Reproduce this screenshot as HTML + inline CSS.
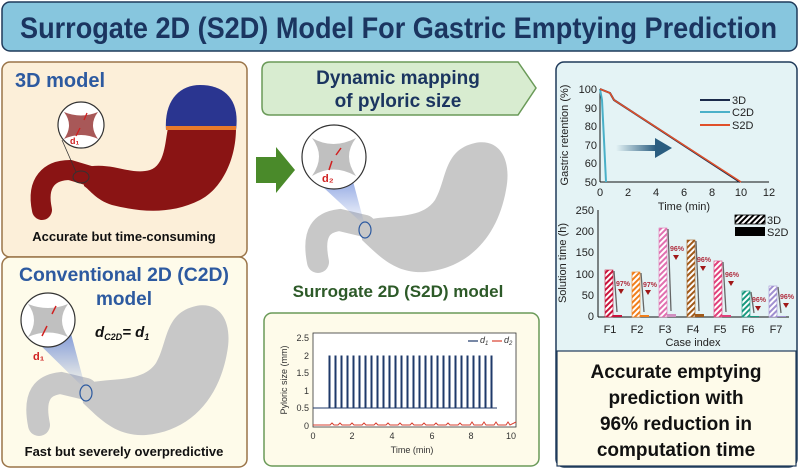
<!DOCTYPE html>
<html><head><meta charset="utf-8"><style>
html,body{margin:0;padding:0;background:#fff}
svg{display:block}
text{font-family:"Liberation Sans",sans-serif}
</style></head><body>
<svg width="799" height="469" viewBox="0 0 799 469" xmlns="http://www.w3.org/2000/svg">
<defs>
<linearGradient id="cone" x1="0" y1="0" x2="0" y2="1"><stop offset="0" stop-color="#4a6fd0" stop-opacity="0.9"/><stop offset="1" stop-color="#4a6fd0" stop-opacity="0"/></linearGradient>
<linearGradient id="arr" x1="0" y1="0" x2="1" y2="0"><stop offset="0" stop-color="#2a5d80" stop-opacity="0"/><stop offset="1" stop-color="#2a5d80"/></linearGradient>
<pattern id="h1" width="4" height="4" patternUnits="userSpaceOnUse" patternTransform="rotate(45)"><rect width="4" height="4" fill="#fff"/><rect width="2" height="4" fill="#c8143c"/></pattern>
<pattern id="h2" width="4" height="4" patternUnits="userSpaceOnUse" patternTransform="rotate(45)"><rect width="4" height="4" fill="#fff"/><rect width="2" height="4" fill="#f07f1c"/></pattern>
<pattern id="h3" width="4" height="4" patternUnits="userSpaceOnUse" patternTransform="rotate(45)"><rect width="4" height="4" fill="#fff"/><rect width="2" height="4" fill="#e070b0"/></pattern>
<pattern id="h4" width="4" height="4" patternUnits="userSpaceOnUse" patternTransform="rotate(45)"><rect width="4" height="4" fill="#fff"/><rect width="2" height="4" fill="#a05a1a"/></pattern>
<pattern id="h5" width="4" height="4" patternUnits="userSpaceOnUse" patternTransform="rotate(45)"><rect width="4" height="4" fill="#fff"/><rect width="2" height="4" fill="#e0407a"/></pattern>
<pattern id="h6" width="4" height="4" patternUnits="userSpaceOnUse" patternTransform="rotate(45)"><rect width="4" height="4" fill="#fff"/><rect width="2" height="4" fill="#1a9a80"/></pattern>
<pattern id="h7" width="4" height="4" patternUnits="userSpaceOnUse" patternTransform="rotate(45)"><rect width="4" height="4" fill="#fff"/><rect width="2" height="4" fill="#a090d0"/></pattern>
<pattern id="hk" width="4" height="4" patternUnits="userSpaceOnUse" patternTransform="rotate(45)"><rect width="4" height="4" fill="#fff"/><rect width="2" height="4" fill="#000"/></pattern>
<g id="stom">
<path d="M318,262 C312,232 322,222 340,220 L365,226" fill="none" stroke="#c8c8c8" stroke-width="22" stroke-linecap="round"/>
<path d="M360,222 C385,213 420,222 435,200 C447,180 443,150 475,143 C500,138 512,160 506,190 C498,235 470,268 425,272 C395,274 378,255 362,240 Z" fill="#c8c8c8"/>
</g>
</defs>

<!-- Title -->
<rect x="2" y="2" width="795" height="49" rx="8" fill="#87c6de" stroke="#1f3a5a" stroke-width="1.5"/>
<text x="20" y="38" font-size="30" font-weight="bold" fill="#1b3560" textLength="757" lengthAdjust="spacingAndGlyphs">Surrogate 2D (S2D) Model For Gastric Emptying Prediction</text>

<!-- Left panels -->
<rect x="2" y="62" width="245" height="195" rx="8" fill="#fcefd9" stroke="#9a7448" stroke-width="1.5"/>
<rect x="2" y="257" width="245" height="210" rx="8" fill="#fefbea" stroke="#9a7448" stroke-width="1.5"/>
<!-- 3D stomach -->
<path d="M42,210 C36,182 50,170 70,170 L90,176" fill="none" stroke="#8a1414" stroke-width="20" stroke-linecap="round"/>
<path d="M82,168 C110,160 130,176 150,170 C165,165 165,142 168,128 L236,128 C236,162 220,190 200,200 C170,215 140,212 112,205 C96,200 90,190 84,186 Z" fill="#8a1414"/>
<path d="M166,130 C164,100 180,85 200,85 C225,85 240,100 236,130 Z" fill="#2a3590"/>
<rect x="166" y="126" width="70" height="4" fill="#e87a2a"/>
<ellipse cx="81" cy="177" rx="8" ry="6" fill="none" stroke="#333" stroke-width="1"/>
<line x1="62" y1="140" x2="76" y2="172" stroke="#333" stroke-width="0.8"/>
<text x="15" y="87" font-size="20" font-weight="bold" fill="#2d5aa0">3D model</text>
<circle cx="81" cy="125" r="23" fill="#fff" stroke="#333" stroke-width="1.2"/>
<path d="M64,112 Q81,119 98,112 Q88,125 98,139 Q81,131 64,139 Q74,125 64,112Z" fill="#a85858"/>
<text x="70" y="144" font-size="9" font-weight="bold" fill="#d02020">d₁</text>
<line x1="87" y1="113" x2="84" y2="120" stroke="#d02020" stroke-width="1.3"/>
<line x1="76" y1="136" x2="80" y2="128" stroke="#d02020" stroke-width="1.3"/>
<text x="124" y="241" text-anchor="middle" font-size="13" font-weight="bold" fill="#111">Accurate but time-consuming</text>

<text x="19" y="281" font-size="19" font-weight="bold" fill="#2d5aa0" textLength="210" lengthAdjust="spacingAndGlyphs">Conventional 2D (C2D)</text>
<text x="124" y="305" text-anchor="middle" font-size="19" font-weight="bold" fill="#2d5aa0">model</text>
<use href="#stom" transform="translate(-279 163)"/>
<ellipse cx="86" cy="393" rx="6" ry="8" fill="none" stroke="#2d5aa0" stroke-width="1.2"/>
<path d="M30,335 L86,390 L70,330 Z" fill="url(#cone)" opacity="0.8"/>
<circle cx="48" cy="320" r="27" fill="#fff" stroke="#333" stroke-width="1.2"/>
<path d="M28,304 Q48,312 68,304 Q56,320 68,337 Q48,328 28,337 Q40,320 28,304Z" fill="#c0c0c0"/>
<text x="33" y="360" font-size="11" font-weight="bold" fill="#d02020">d₁</text>
<line x1="56" y1="306" x2="52" y2="314" stroke="#d02020" stroke-width="1.5"/>
<line x1="42" y1="336" x2="47" y2="326" stroke="#d02020" stroke-width="1.5"/>
<text x="95" y="337" font-size="15" font-weight="bold" font-style="italic" fill="#111">d<tspan font-size="9" dy="3">C2D</tspan><tspan dy="-3">= d</tspan><tspan font-size="9" dy="3">1</tspan></text>
<text x="124" y="456" text-anchor="middle" font-size="13" font-weight="bold" fill="#111">Fast but severely overpredictive</text>

<!-- Middle -->
<path d="M270,62 L518,62 L536,88 L518,115 L270,115 Q262,115 262,107 L262,70 Q262,62 270,62Z" fill="#d8ecd0" stroke="#6a9a58" stroke-width="1.5"/>
<text x="398" y="84" text-anchor="middle" font-size="19" font-weight="bold" fill="#1b3560">Dynamic mapping</text>
<text x="398" y="107" text-anchor="middle" font-size="19" font-weight="bold" fill="#1b3560">of pyloric size</text>
<path d="M256,157 L276,157 L276,147 L295,170 L276,193 L276,183 L256,183Z" fill="#4a8a2a"/>
<use href="#stom"/>
<ellipse cx="365" cy="230" rx="6" ry="8" fill="none" stroke="#2d5aa0" stroke-width="1.2"/>
<path d="M310,175 L365,226 L350,170 Z" fill="url(#cone)" opacity="0.8"/>
<circle cx="334" cy="157" r="32" fill="#fff" stroke="#333" stroke-width="1.2"/>
<path d="M312,138 Q333,150 356,138 Q342,156 356,176 Q333,163 312,176 Q326,156 312,138Z" fill="#c0c0c0"/>
<text x="322" y="182" font-size="11" font-weight="bold" fill="#d02020">d₂</text>
<line x1="341" y1="148" x2="336" y2="155" stroke="#d02020" stroke-width="1.5"/>
<line x1="329" y1="170" x2="332" y2="161" stroke="#d02020" stroke-width="1.5"/>
<text x="398" y="297" text-anchor="middle" font-size="17" font-weight="bold" fill="#2d5a28">Surrogate 2D (S2D) model</text>

<!-- pyloric chart -->
<rect x="264" y="313" width="275" height="153" rx="8" fill="#fefbea" stroke="#6a9a58" stroke-width="1.5"/>
<rect x="313" y="333" width="203" height="94" fill="#fff" stroke="#333" stroke-width="0.8"/>
<g font-size="9" fill="#333" text-anchor="end">
<text x="309" y="341">2.5</text><text x="309" y="359">2</text><text x="309" y="376">1.5</text><text x="309" y="394">1</text><text x="309" y="411">0.5</text><text x="309" y="429">0</text></g>
<g font-size="9" fill="#333" text-anchor="middle">
<text x="313" y="439">0</text><text x="352" y="439">2</text><text x="392" y="439">4</text><text x="432" y="439">6</text><text x="471" y="439">8</text><text x="511" y="439">10</text>
<text x="412" y="453">Time (min)</text></g>
<text x="287" y="380" font-size="9" fill="#333" text-anchor="middle" transform="rotate(-90 287 380)">Pyloric size (mm)</text>
<polyline fill="none" stroke="#1f3a6a" stroke-width="1" points="313,408 329,408 329,356 330,356 330,408 335,408 335,356 336,356 336,408 341,408 341,356 342,356 342,408 347,408 347,356 348,356 348,408 353,408 353,356 354,356 354,408 359,408 359,356 360,356 360,408 365,408 365,356 366,356 366,408 371,408 371,356 372,356 372,408 377,408 377,356 378,356 378,408 383,408 383,356 384,356 384,408 389,408 389,356 390,356 390,408 395,408 395,356 396,356 396,408 401,408 401,356 402,356 402,408 407,408 407,356 408,356 408,408 413,408 413,356 414,356 414,408 419,408 419,356 420,356 420,408 425,408 425,356 426,356 426,408 431,408 431,356 432,356 432,408 437,408 437,356 438,356 438,408 443,408 443,356 444,356 444,408 449,408 449,356 450,356 450,408 455,408 455,356 456,356 456,408 461,408 461,356 462,356 462,408 467,408 467,356 468,356 468,408 473,408 473,356 474,356 474,408 479,408 479,356 480,356 480,408 485,408 485,356 486,356 486,408 491,408 491,356 492,356 492,408 497,408"/>
<polyline fill="none" stroke="#d84030" stroke-width="1" points="313,425 330,425 332,423 334,425 338,425 340,423 342,425 350,425 352,423 354,425 362,425 364,423 366,425 374,425 376,423 378,425 386,425 388,423 390,425 398,425 400,423 402,425 410,425 412,423 414,425 422,425 424,423 426,425 434,425 436,423 438,425 446,425 448,423 450,425 458,425 460,423 462,425 470,425 472,422 474,425 482,425 484,422 486,425 494,425 496,422 498,425 506,425 508,422 510,425 516,422"/>
<line x1="468" y1="341" x2="478" y2="341" stroke="#1f3a6a" stroke-width="1.2"/><text x="480" y="343" font-size="9" font-style="italic" fill="#333">d<tspan font-size="6" dy="2">1</tspan></text>
<line x1="492" y1="341" x2="502" y2="341" stroke="#d84030" stroke-width="1.2"/><text x="504" y="343" font-size="9" font-style="italic" fill="#333">d<tspan font-size="6" dy="2">2</tspan></text>

<!-- Right panel -->
<rect x="556" y="62" width="241" height="405" rx="8" fill="#e4f3f5" stroke="#1f3a5a" stroke-width="1.5"/>
<g stroke="#111" stroke-width="1" fill="none"><line x1="600" y1="89" x2="600" y2="182"/><line x1="600" y1="182" x2="769" y2="182"/></g>
<g font-size="11" fill="#222" text-anchor="end"><text x="597" y="93">100</text><text x="597" y="112">90</text><text x="597" y="130">80</text><text x="597" y="149">70</text><text x="597" y="167">60</text><text x="597" y="186">50</text></g>
<g font-size="11" fill="#222" text-anchor="middle"><text x="600" y="196">0</text><text x="628" y="196">2</text><text x="656" y="196">4</text><text x="684" y="196">6</text><text x="712" y="196">8</text><text x="741" y="196">10</text><text x="769" y="196">12</text><text x="684" y="210">Time (min)</text></g>
<text x="568" y="135" font-size="11" fill="#222" text-anchor="middle" transform="rotate(-90 568 135)">Gastric retention (%)</text>
<polyline fill="none" stroke="#4ab0c8" stroke-width="2" points="600,89 602,100 604,140 606,182"/>
<polyline fill="none" stroke="#1b2a4a" stroke-width="2" points="600,89 610,93 614,100 740,182"/>
<polyline fill="none" stroke="#e0502a" stroke-width="1.5" points="600,89 610,93 614,100 741,182"/>
<rect x="616" y="145" width="40" height="6" fill="url(#arr)"/><path d="M655,138 L672,148 L655,158Z" fill="#2a5d80"/>
<line x1="700" y1="100" x2="730" y2="100" stroke="#1b2a4a" stroke-width="2"/><text x="732" y="104" font-size="11" fill="#222">3D</text>
<line x1="700" y1="112" x2="730" y2="112" stroke="#4ab0c8" stroke-width="2"/><text x="732" y="116" font-size="11" fill="#222">C2D</text>
<line x1="700" y1="125" x2="730" y2="125" stroke="#e0502a" stroke-width="2"/><text x="732" y="129" font-size="11" fill="#222">S2D</text>
<g stroke="#111" stroke-width="1" fill="none"><line x1="598" y1="210" x2="598" y2="317"/><line x1="598" y1="317" x2="789" y2="317"/></g>
<g font-size="11" fill="#222" text-anchor="end"><text x="594" y="214">250</text><text x="594" y="235">200</text><text x="594" y="256">150</text><text x="594" y="278">100</text><text x="594" y="299">50</text><text x="594" y="320">0</text></g>
<text x="566" y="263" font-size="11" fill="#222" text-anchor="middle" transform="rotate(-90 566 263)">Solution time (h)</text>
<g font-size="11" fill="#222" text-anchor="middle"><text x="610" y="333">F1</text><text x="637" y="333">F2</text><text x="665" y="333">F3</text><text x="693" y="333">F4</text><text x="720" y="333">F5</text><text x="748" y="333">F6</text><text x="776" y="333">F7</text><text x="693" y="346">Case index</text></g>
<rect x="605" y="270" width="8" height="47" fill="url(#h1)" stroke="#c8143c" stroke-width="0.6"/>
<rect x="632" y="272" width="8" height="45" fill="url(#h2)" stroke="#f07f1c" stroke-width="0.6"/>
<rect x="659" y="228" width="8" height="89" fill="url(#h3)" stroke="#e070b0" stroke-width="0.6"/>
<rect x="687" y="240" width="8" height="77" fill="url(#h4)" stroke="#a05a1a" stroke-width="0.6"/>
<rect x="714" y="261" width="8" height="56" fill="url(#h5)" stroke="#e0407a" stroke-width="0.6"/>
<rect x="742" y="291" width="8" height="26" fill="url(#h6)" stroke="#1a9a80" stroke-width="0.6"/>
<rect x="769" y="286" width="8" height="31" fill="url(#h7)" stroke="#a090d0" stroke-width="0.6"/>
<g><rect x="613" y="315" width="9" height="2" fill="#c8143c"/><rect x="640" y="315" width="9" height="2" fill="#f07f1c"/><rect x="667" y="314" width="9" height="3" fill="#d090c0"/><rect x="695" y="314" width="9" height="3" fill="#a05a1a"/><rect x="722" y="315" width="9" height="2" fill="#e0407a"/><rect x="750" y="316" width="9" height="1" fill="#1a9a80"/><rect x="777" y="316" width="9" height="1" fill="#a090d0"/></g>
<g stroke="#666" stroke-width="1.3"><line x1="614" y1="271" x2="617" y2="312"/><line x1="641" y1="273" x2="644" y2="312"/><line x1="668" y1="229" x2="671" y2="311"/><line x1="696" y1="241" x2="699" y2="311"/><line x1="723" y1="262" x2="726" y2="312"/><line x1="751" y1="292" x2="754" y2="313"/><line x1="778" y1="287" x2="781" y2="313"/></g>
<g fill="#a01818"><path d="M618,289 h6 l-3,5z"/><path d="M645,290 h6 l-3,5z"/><path d="M673,255 h6 l-3,5z"/><path d="M700,266 h6 l-3,5z"/><path d="M728,281 h6 l-3,5z"/><path d="M755,306 h6 l-3,5z"/><path d="M783,303 h6 l-3,5z"/></g>
<g font-size="7" font-weight="bold" fill="#b03040"><text x="616" y="286">97%</text><text x="643" y="287">97%</text><text x="670" y="251">96%</text><text x="697" y="262">96%</text><text x="725" y="277">96%</text><text x="752" y="302">96%</text><text x="780" y="299">96%</text></g>
<rect x="735" y="215" width="30" height="9" fill="url(#hk)" stroke="#000" stroke-width="0.8"/><text x="767" y="224" font-size="11" fill="#222">3D</text>
<rect x="735" y="227" width="30" height="9" fill="#000"/><text x="767" y="236" font-size="11" fill="#222">S2D</text>

<rect x="557" y="351" width="239" height="115" fill="#fefbea" stroke="#1f3a5a" stroke-width="1.2"/>
<g font-size="19" font-weight="bold" fill="#111" text-anchor="middle">
<text x="676" y="378">Accurate emptying</text>
<text x="676" y="404">prediction with</text>
<text x="676" y="430">96% reduction in</text>
<text x="676" y="456">computation time</text></g>
</svg>
</body></html>
